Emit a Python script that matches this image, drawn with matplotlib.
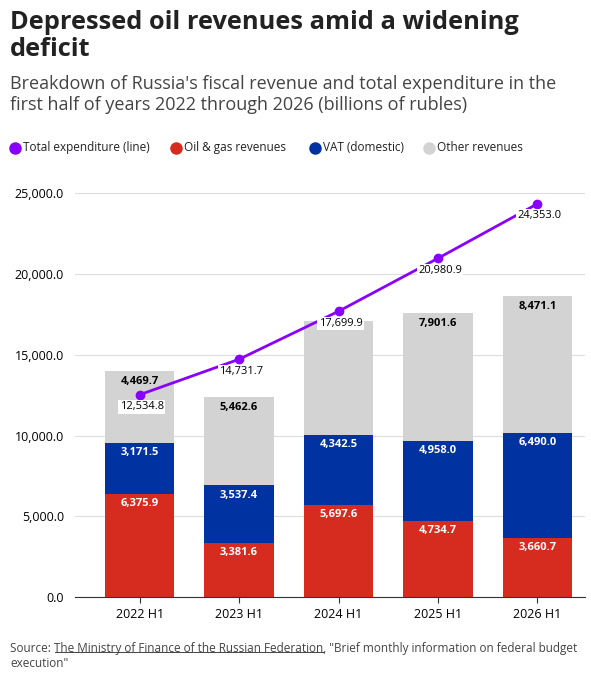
import matplotlib
matplotlib.use("Agg")
import matplotlib.pyplot as plt
from matplotlib.lines import Line2D

years = ["2022 H1", "2023 H1", "2024 H1", "2025 H1", "2026 H1"]
oil_gas = [6375.9, 3381.6, 5697.6, 4734.7, 3660.7]
vat = [3171.5, 3537.4, 4342.5, 4958.0, 6490.0]
other = [4469.7, 5462.6, 7059.9, 7901.6, 8471.1]
show_other_label = [True, True, False, True, True]
expenditure = [12534.8, 14731.7, 17699.9, 20980.9, 24353.0]

RED, BLUE, GRAY, PURPLE = "#d62b1f", "#0033a1", "#d3d3d3", "#8a00ff"
plt.rcParams['font.family'] = ['Open Sans', 'DejaVu Sans']

fig = plt.figure(figsize=(5.91, 6.74), dpi=100)
ax = fig.add_axes([0.127, 0.114, 0.863, 0.635])
x = list(range(len(years)))
w = 0.7
ax.bar(x, oil_gas, w, color=RED, zorder=2)
ax.bar(x, vat, w, bottom=oil_gas, color=BLUE, zorder=2)
b2 = [a + b for a, b in zip(oil_gas, vat)]
ax.bar(x, other, w, bottom=b2, color=GRAY, zorder=2)
for i in x:
    ax.text(i, oil_gas[i] - 600, f"{oil_gas[i]:,.1f}", ha="center", va="center", color="white", fontsize=8, fontweight="bold", zorder=3)
    ax.text(i, b2[i] - 600, f"{vat[i]:,.1f}", ha="center", va="center", color="white", fontsize=8, fontweight="bold", zorder=3)
    if show_other_label[i]:
        ax.text(i, b2[i] + other[i] - 650, f"{other[i]:,.1f}", ha="center", va="center", color="black", fontsize=8, fontweight="bold", zorder=3)
ax.plot(x, expenditure, color=PURPLE, lw=2, marker="o", ms=6, zorder=4)
for i in x:
    ax.text(i + 0.02, expenditure[i] - 750, f"{expenditure[i]:,.1f}", ha="center", va="center", fontsize=8,
            bbox=dict(facecolor="white", edgecolor="none", pad=1), zorder=5)
ax.set_ylim(0, 26500)
ax.set_xlim(-0.65, 4.48)
ax.set_yticks(range(0, 25001, 5000))
ax.set_yticklabels([f"{v:,.1f}" for v in range(0, 25001, 5000)], fontsize=9)
ax.set_xticks(x)
ax.set_xticklabels(years, fontsize=9)
ax.grid(axis="y", color="#dddddd", lw=0.8, zorder=0)
for s in ["top", "right", "left"]:
    ax.spines[s].set_visible(False)
ax.spines["bottom"].set_color("#333333")
ax.tick_params(axis="y", length=0, pad=8)
ax.tick_params(axis="x", length=4, color="#333333")

fig.text(0.017, 0.985, "Depressed oil revenues amid a widening\ndeficit", fontsize=18.3, fontweight="bold",
         va="top", color="#222222", linespacing=1.12)
fig.text(0.017, 0.888, "Breakdown of Russia's fiscal revenue and total expenditure in the\nfirst half of years 2022 through 2026 (billions of rubles)",
         fontsize=13, va="top", color="#444444", linespacing=1.15)

items = [("Total expenditure (line)", PURPLE), ("Oil & gas revenues", RED), ("VAT (domestic)", BLUE), ("Other revenues", GRAY)]
xs = [0.017, 0.29, 0.525, 0.718]
for (lab, c), xx in zip(items, xs):
    fig.add_artist(Line2D([xx + 0.008], [0.781], marker="o", color=c, ms=8, transform=fig.transFigure))
    fig.text(xx + 0.022, 0.781, lab, fontsize=8.5, va="center", color="#222222")

fig.text(0.017, 0.048, "Source: The Ministry of Finance of the Russian Federation, \"Brief monthly information on federal budget\nexecution\"",
         fontsize=8.5, va="top", color="#444444", linespacing=1.25)
fig.add_artist(Line2D([55 / 591, 324 / 591], [1 - 652 / 674] * 2, color="#444444", lw=0.7, transform=fig.transFigure))
fig.savefig("out.png", dpi=100)
